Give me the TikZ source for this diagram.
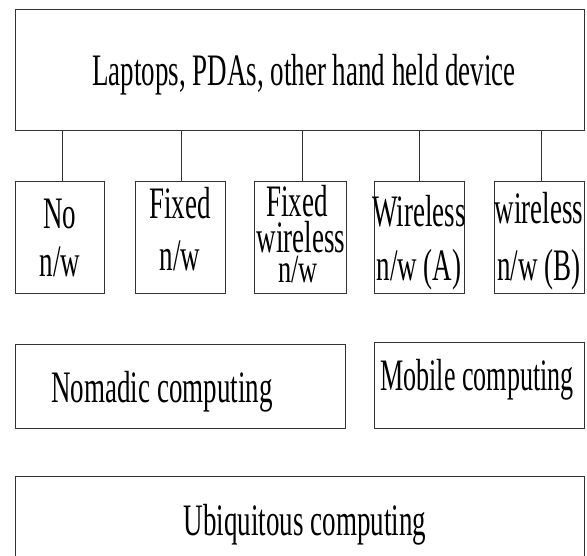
\documentclass[tikz,border=0pt]{standalone}
\usepackage{fontspec}
\setmainfont{Liberation Serif}
\usepackage{graphicx}
\newcommand\cnd[1]{\scalebox{0.6}[1]{#1}}
\tikzset{
  box/.style={draw=black!80, line width=1pt, inner sep=0pt},
  txt/.style={inner sep=0pt, anchor=base, font=\fontsize{45}{48}\selectfont},
  link/.style={draw=black!80, line width=0.8pt}
}
\begin{document}
\begin{tikzpicture}[x=1pt,y=-1pt]
\useasboundingbox (0,0) rectangle (587,555);
\clip (0,0) rectangle (587,555);
% boxes
\node[box, minimum width=569pt, minimum height=121pt] (top) at (299.5,69.5) {};
\node[box, minimum width=89pt, minimum height=112pt] (b1) at (59.5,237) {};
\node[box, minimum width=90pt, minimum height=112pt] (b2) at (180,237) {};
\node[box, minimum width=92pt, minimum height=112pt] (b3) at (300,237) {};
\node[box, minimum width=90pt, minimum height=112pt] (b4) at (419,237) {};
\node[box, minimum width=90pt, minimum height=112pt] (b5) at (539,237) {};
\node[box, minimum width=330pt, minimum height=84pt] (nom) at (180,386) {};
\node[box, minimum width=210pt, minimum height=86pt] (mob) at (479,385) {};
\node[box, minimum width=569pt, minimum height=124pt] (ubi) at (299.5,538) {};
% texts
\node[txt] (ttop) at (304,85) {\cnd{Laptops, PDAs, other hand held device}};
\node[txt] (t1a) at (60,228) {\cnd{No}};
\node[txt] (t1b) at (60,276) {\cnd{n/w}};
\node[txt] (t2a) at (180,218) {\cnd{Fixed}};
\node[txt] (t2b) at (180,270) {\cnd{n/w}};
\node[txt] (t3a) at (297,216) {\cnd{Fixed}};
\node[txt] (t3b) at (301,252) {\cnd{wireless}};
\node[txt, font=\fontsize{40}{44}\selectfont] (t3c) at (298,282) {\scalebox{0.66}[1]{n/w}};
\node[txt] (t4a) at (419,226) {\cnd{Wireless}};
\node[txt] (t4b) at (419,280) {\cnd{n/w (A)}};
\node[txt] (t5a) at (539,223) {\cnd{wireless}};
\node[txt] (t5b) at (539,280) {\cnd{n/w (B)}};
\node[txt] (tnom) at (162,402) {\cnd{Nomadic computing}};
\node[txt] (tmob) at (477,390) {\scalebox{0.58}[1]{Mobile computing}};
\node[txt] (tubi) at (305,535) {\cnd{Ubiquitous computing}};
% connectors
\draw[link] ([xshift=2.5pt]b1.north) -- ([xshift=2.5pt]b1.north |- top.south);
\draw[link] ([xshift=1pt]b2.north) -- ([xshift=1pt]b2.north |- top.south);
\draw[link] ([xshift=2pt]b3.north) -- ([xshift=2pt]b3.north |- top.south);
\draw[link] (b4.north) -- (b4.north |- top.south);
\draw[link] ([xshift=2pt]b5.north) -- ([xshift=2pt]b5.north |- top.south);
\end{tikzpicture}
\end{document}
